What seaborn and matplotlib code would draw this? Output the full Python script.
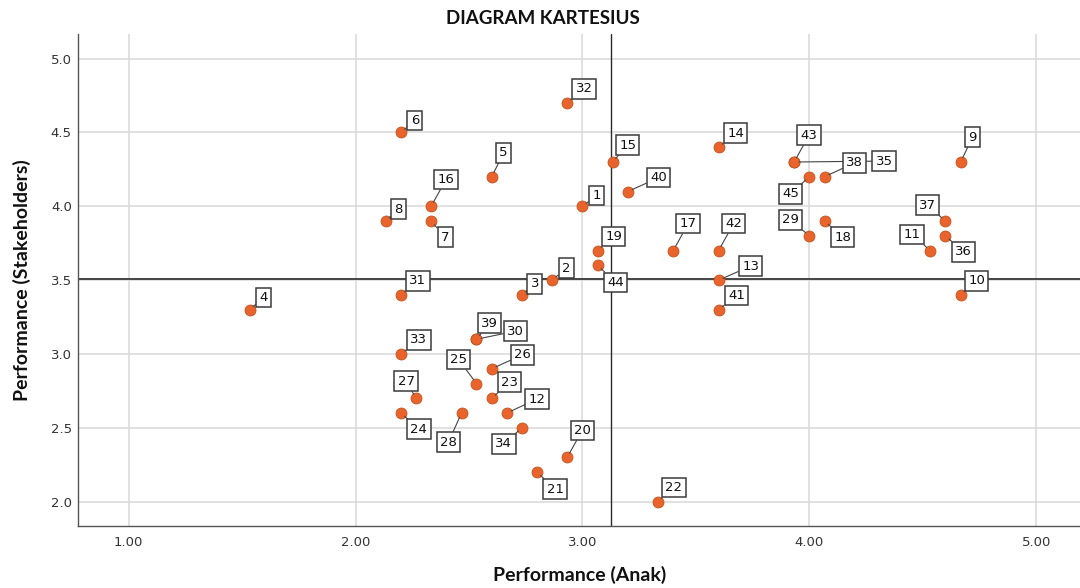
import numpy as np
import pandas as pd
import matplotlib
matplotlib.use("Agg")
import matplotlib.pyplot as plt
import seaborn as sns

# ---- data ----
ids = list(range(1, 46))
perf_anak = [3.000, 2.867, 2.733, 1.533, 2.600, 2.200, 2.333, 2.133, 4.667, 4.667,
             4.533, 2.667, 3.600, 3.600, 3.133, 2.333, 3.400, 4.067, 3.067, 2.933,
             2.800, 3.333, 2.600, 2.200, 2.533, 2.600, 2.267, 2.467, 4.000, 2.533,
             2.200, 2.933, 2.200, 2.733, 3.933, 4.600, 4.600, 4.067, 2.533, 3.200,
             3.600, 3.600, 3.933, 3.067, 4.000]
perf_stake = [4.0, 3.5, 3.4, 3.3, 4.2, 4.5, 3.9, 3.9, 4.3, 3.4,
              3.7, 2.6, 3.5, 4.4, 4.3, 4.0, 3.7, 3.9, 3.7, 2.3,
              2.2, 2.0, 2.7, 2.6, 2.8, 2.9, 2.7, 2.6, 3.8, 3.1,
              3.4, 4.7, 3.0, 2.5, 4.3, 3.8, 3.9, 4.2, 3.1, 4.1,
              3.3, 3.7, 4.3, 3.6, 4.2]
x_ticks = [1.0, 2.0, 3.0, 4.0, 5.0]
x_tick_labels = ["1.00", "2.00", "3.00", "4.00", "5.00"]
y_ticks = [2.0, 2.5, 3.0, 3.5, 4.0, 4.5, 5.0]
y_tick_labels = ["2.0", "2.5", "3.0", "3.5", "4.0", "4.5", "5.0"]

# label placement (offset of each number box from its point, in pixels)
label_offsets = {
    1: (14, 11), 2: (14, 12), 3: (13, 11), 4: (14, 12), 5: (12, 24),
    6: (14, 12), 7: (14, -16), 8: (13, 12), 9: (12, 25), 10: (16, 14),
    11: (-18, 16), 12: (30, 14), 13: (32, 14), 14: (17, 14), 15: (15, 17),
    16: (15, 27), 17: (15, 27), 18: (18, -16), 19: (16, 14), 20: (15, 27),
    21: (18, -17), 22: (16, 14), 23: (18, 16), 24: (18, -16), 25: (-18, 24),
    26: (31, 14), 27: (-10, 17), 28: (-13, -29), 29: (-19, 16), 30: (39, 8),
    31: (17, 14), 32: (17, 14), 33: (18, 14), 34: (-18, -16), 35: (90, 1),
    36: (18, -16), 37: (-18, 16), 38: (30, 14), 39: (13, 16), 40: (31, 14),
    41: (18, 14), 42: (15, 27), 43: (15, 27), 44: (18, -17), 45: (-19, -17),
}

df = pd.DataFrame({"id": ids, "anak": perf_anak, "stake": perf_stake})

sns.set_theme(style="white")
plt.rcParams["font.family"] = ["DejaVu Sans"]

W, H = 1080, 588
fig = plt.figure(figsize=(W / 100, H / 100), dpi=100)
ax_l, ax_r, ax_t, ax_b = 78.3, 1080, 34, 526
ax = fig.add_axes([ax_l / W, (H - ax_b) / H, (ax_r - ax_l) / W, (ax_b - ax_t) / H])

ax.set_xlim(0.778, 5.193)
ax.set_ylim(1.835, 5.167)
ax.set_xticks(x_ticks)
ax.set_xticklabels(x_tick_labels)
ax.set_yticks(y_ticks)
ax.set_yticklabels(y_tick_labels)
ax.grid(True, color="#d9d9d9", lw=1.1)
ax.set_axisbelow(True)
ax.tick_params(axis="both", length=0, labelsize=9.5, labelcolor="#333333")
ax.tick_params(axis="x", pad=7)
ax.tick_params(axis="y", pad=4.7)

for s in ["top", "right"]:
    ax.spines[s].set_visible(False)
for s in ["left", "bottom"]:
    ax.spines[s].set_color("#555555")
    ax.spines[s].set_linewidth(1.0)

ax.axvline(df["anak"].mean(), color="#2b2b2b", lw=1.0, zorder=1.5)
ax.axhline(df["stake"].mean(), color="#444444", lw=1.4, zorder=1.5)

sns.scatterplot(data=df, x="anak", y="stake", color="#E8642C", s=62,
                edgecolor="#c4521e", linewidth=0.6, ax=ax, zorder=3, legend=False)

for i, x, y in zip(df["id"], df["anak"], df["stake"]):
    dx, dy = label_offsets[i]
    ax.annotate(str(i), (x, y), xytext=(dx, dy), textcoords="offset pixels",
                ha="center", va="center", fontsize=9.5, color="#111111",
                bbox=dict(boxstyle="square,pad=0.25", fc="white", ec="#3a3a3a", lw=1.1),
                arrowprops=dict(arrowstyle="-", color="#444444", lw=0.8,
                                shrinkA=0, shrinkB=3.5),
                zorder=4)

ax.set_xlabel("Performance (Anak)", fontsize=14, fontweight="bold",
              family=["Lato", "DejaVu Sans"], color="#111111")
ax.set_ylabel("Performance (Stakeholders)", fontsize=14, fontweight="bold",
              family=["Lato", "DejaVu Sans"], color="#111111")
ax.xaxis.label.set_va("center")
ax.yaxis.label.set_va("center")
ax.xaxis.set_label_coords(0.5, -(575 - ax_b) / (ax_b - ax_t))
ax.yaxis.set_label_coords(-(ax_l - 22) / (ax_r - ax_l), 0.5)

fig.text(543 / W, 1 - 19 / H, "DIAGRAM KARTESIUS", ha="center", va="center",
         fontsize=13.5, fontweight="bold", family=["Lato", "DejaVu Sans"], color="#111111")

fig.savefig("out.png", dpi=100)
